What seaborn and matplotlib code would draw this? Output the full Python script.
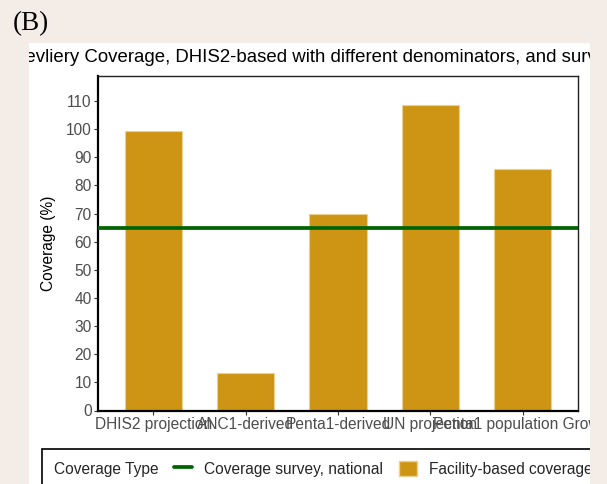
import matplotlib
matplotlib.use("Agg")
import matplotlib.pyplot as plt
from matplotlib.lines import Line2D
from matplotlib.patches import Patch, Rectangle
import seaborn as sns
import pandas as pd

# values
denominators = ["DHIS2 projection", "ANC1-derived", "Penta1-derived",
                "UN projection", "Penta1 population Growth"]
facility_coverage = [99.4, 13.5, 69.7, 108.7, 85.9]
survey_coverage = 65.0
yticks = list(range(0, 111, 10))

df = pd.DataFrame({"denominator": denominators, "coverage": facility_coverage})

W, H = 607, 484
gold = "#CD9513"
green = "#006400"
paper = "#f4ece6"

sns.set_style("white")
plt.rcParams["font.family"] = ["Liberation Sans", "DejaVu Sans"]

fig = plt.figure(figsize=(W / 100, H / 100), dpi=100)
fig.patch.set_facecolor("white")
ax = fig.add_axes([98 / W, 1 - 410.5 / H, 480 / W, (410.5 - 75.7) / H])

sns.barplot(data=df, x="denominator", y="coverage", color=gold, saturation=1,
            width=0.62, edgecolor="#ecd08f", linewidth=0.8, ax=ax)
ax.axhline(survey_coverage, color=green, lw=2.7, zorder=3)

ax.set_xlim(-0.6, len(denominators) - 0.4)
ax.set_ylim(0, 119)
ax.set_yticks(yticks)
ax.set_xlabel("")
ax.set_ylabel("Coverage (%)", fontsize=11.2, color="black", labelpad=7)
ax.tick_params(axis="both", labelsize=11.2, labelcolor="#4d4d4d", color="#333333",
               length=3, width=0.8, direction="out", pad=1.5)
ax.tick_params(axis="x", bottom=True)
ax.tick_params(axis="y", left=True)
for side in ["left", "bottom"]:
    ax.spines[side].set_linewidth(1.6)
    ax.spines[side].set_color("black")
for side in ["top", "right"]:
    ax.spines[side].set_linewidth(1.0)
    ax.spines[side].set_color("#222222")

# title (cut off on both sides in the reference)
fig.text(11.5 / W, 1 - 62 / H,
         "Devliery Coverage, DHIS2-based with different denominators, and survey",
         fontsize=13.4, va="baseline", ha="left", color="black")

# legend with the title inline on the left
handles = [Line2D([], [], color=green, lw=2.7),
           Patch(facecolor=gold, edgecolor="#ecd08f")]
leg = fig.legend(handles=handles,
                 labels=["Coverage survey, national", "Facility-based coverage"],
                 title="Coverage Type", ncol=2, loc="upper left",
                 bbox_to_anchor=(42 / W, 1 - 449 / H), bbox_transform=fig.transFigure,
                 borderaxespad=0, frameon=True, fancybox=False, framealpha=1,
                 edgecolor="black", fontsize=11.2, title_fontsize=11.2,
                 handlelength=1.15, handleheight=1.15, handletextpad=0.8,
                 columnspacing=1.0, borderpad=0.75)
leg.get_frame().set_linewidth(1.2)
vp = leg._legend_box
title_box, handle_box = vp.get_children()
vp._children = [handle_box]
handle_box._children = [title_box] + list(handle_box.get_children())

# page background around the cropped figure
for x0, y0, w, h in [(0, 0, 29 / W, 1), (590 / W, 0, 1, 1), (0, 1 - 43.3 / H, 1, 1)]:
    fig.add_artist(Rectangle((x0, y0), w, h, transform=fig.transFigure,
                             facecolor=paper, edgecolor="none", zorder=10))

fig.text(13 / W, 1 - 30 / H, "(B)", family="Liberation Serif", fontsize=19.5,
         va="baseline", ha="left", color="black", zorder=20)

fig.savefig("out.png", dpi=100, facecolor=fig.get_facecolor())
